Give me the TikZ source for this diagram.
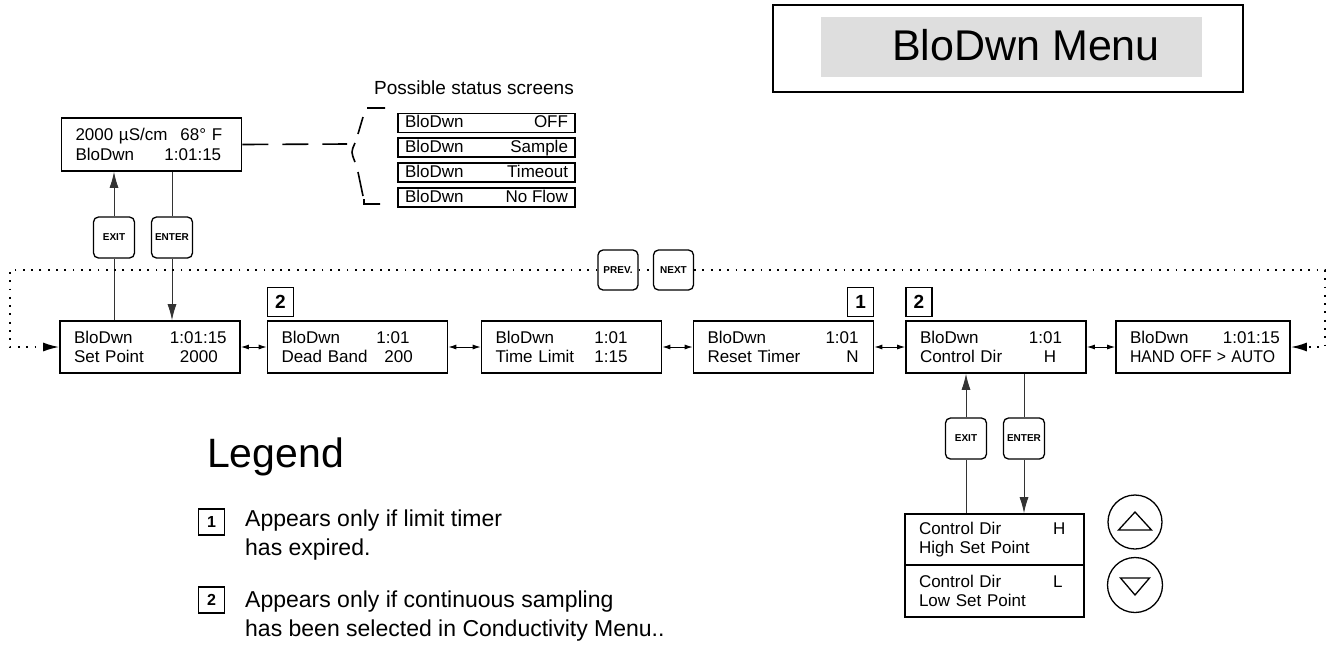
\documentclass[tikz,border=0pt]{standalone}
\usepackage{fontspec}
\setmainfont{Liberation Sans}
\usetikzlibrary{arrows.meta}
\definecolor{menugray}{gray}{0.87}
\newcommand{\lcdfont}{\fontsize{17}{19.5}\selectfont}
\newcommand{\lcdrow}[3]{\makebox[#1pt][l]{#2}#3}
\begin{document}
\begin{tikzpicture}[x=1pt, y=-1pt,
	lcd/.style={draw, line width=1.6pt, inner xsep=14pt, inner ysep=0pt, text width=152pt, minimum height=52pt, align=left, font=\lcdfont},
	statline/.style={draw, line width=1.4pt, inner sep=0pt, minimum width=177pt, minimum height=19pt, text height=12.5pt, text depth=3pt, font=\lcdfont},
	keybtn/.style={draw, fill=white, line width=1.3pt, rounded corners=5pt, minimum size=41pt, inner sep=0pt, font=\fontsize{10}{12}\selectfont\bfseries},
	badge/.style={draw, line width=1.5pt, minimum width=26pt, minimum height=29pt, inner sep=0pt, font=\fontsize{19}{21}\selectfont\bfseries},
	legbadge/.style={draw, line width=1.1pt, minimum size=26pt, inner sep=0pt, font=\fontsize{16}{18}\selectfont\bfseries},
	wire/.style={line width=0.9pt, black!80},
	upto/.style={-{Latex[length=16pt,width=9pt]}},
	twoway/.style={line width=1pt, {Latex[length=8pt,width=5pt]}-{Latex[length=8pt,width=5pt]}},
	cycleline/.style={line width=1.8pt, dash pattern=on 1.8pt off 6.5pt}]
	\useasboundingbox (0,0) rectangle (1335,649);
	\node[draw, line width=1.5pt, minimum width=470pt, minimum height=87pt] (title) at (1008,48.5) {};
	\node[fill=menugray, minimum width=381pt, minimum height=60pt] (band) at (1011.5,47) {};
	\node[font=\fontsize{43}{50}\selectfont] (head) at (1026,45) {BloDwn Menu};

	\node[lcd, minimum height=53pt] (status) at (151.5,144.5) {\lcdrow{105}{2000 µS/cm}{68° F}\\\lcdrow{89}{BloDwn}{1:01:15}};
	\node[font=\fontsize{19}{21}\selectfont] (caption) at (474,87.5) {Possible status screens};
	\node[statline] (off) at (486.5,123) {\makebox[163pt]{BloDwn\hfill OFF}};
	\node[statline] (sample) at (486.5,147.5) {\makebox[163pt]{BloDwn\hfill Sample}};
	\node[statline] (timeout) at (486.5,172.5) {\makebox[163pt]{BloDwn\hfill Timeout}};
	\node[statline] (noflow) at (486.5,197.5) {\makebox[163pt]{BloDwn\hfill No Flow}};
	\coordinate (bracetip) at (347,144);
	\draw[line width=1.6pt, dash pattern=on 26pt off 14pt] (status.east) -- (bracetip);
	\draw[line width=1.6pt] (385,108) -- (367,108) (363,117) -- (358,134)
		(355,143) .. controls (351,152) .. (355,162) (358,172) -- (363,196)
		(364,199) -- (364,204) -- (380,204);

	\node[lcd] (box1) at (150,347) {\lcdrow{96}{BloDwn}{1:01:15}\\\lcdrow{106}{Set Point}{2000}};
	\node[lcd] (box2) at (357.5,347) {\lcdrow{95}{BloDwn}{1:01}\\\lcdrow{103}{Dead Band}{200}};
	\node[lcd] (box3) at (571.5,347) {\lcdrow{99}{BloDwn}{1:01}\\\lcdrow{99}{Time Limit}{1:15}};
	\node[lcd] (box4) at (783.5,347) {\lcdrow{118}{BloDwn}{1:01}\\\lcdrow{139}{Reset Timer}{N}};
	\node[lcd] (box5) at (996,347) {\lcdrow{109}{BloDwn}{1:01}\\\lcdrow{124}{Control Dir}{H}};
	\node[lcd, text width=146pt] (box6) at (1203,347) {\lcdrow{93}{BloDwn}{1:01:15}\\\scalebox{0.93}[1]{HAND OFF > AUTO}};
	\node[badge, anchor=south west] (mark2a) at ([yshift=3pt]box2.north west) {2};
	\node[badge, anchor=south east] (mark1) at ([yshift=3pt]box4.north east) {1};
	\node[badge, anchor=south west] (mark2b) at ([yshift=3pt]box5.north west) {2};
	\foreach \a/\b in {box1/box2, box2/box3, box3/box4, box4/box5, box5/box6}
		\draw[twoway] (\a) -- (\b);

	\node[keybtn] (exitA) at (114,237.5) {EXIT};
	\node[keybtn] (enterA) at (172,237.5) {ENTER};
	\draw[wire] (box1.north -| exitA) -- (exitA.south);
	\draw[wire, upto] (exitA.north) -- (status.south -| exitA);
	\draw[wire] (status.south -| enterA) -- (enterA.north);
	\draw[wire, upto] (enterA.south) -- (box1.north -| enterA);

	\node[keybtn, minimum size=40pt] (prev) at (618,270) {PREV.};
	\node[keybtn, minimum size=40pt] (next) at (673.5,270) {NEXT};
	\coordinate (cornerL) at (10,270);
	\coordinate (cornerR) at (1325,270);
	\draw[cycleline, upto] (prev.west) -- (cornerL) |- (box1.west);
	\draw[cycleline] (prev.east) -- (next.west);
	\draw[cycleline, upto] (next.east) -- (cornerR) |- (box6.east);

	\node[keybtn] (exitB) at (966,438.5) {EXIT};
	\node[keybtn] (enterB) at (1024,438.5) {ENTER};
	\node[lcd, text width=151pt, minimum height=51pt] (dirH) at (994.5,539.5) {\lcdrow{134}{Control Dir}{H}\\High Set Point};
	\node[lcd, text width=151pt, minimum height=52pt] (dirL) at (994.5,591) {\lcdrow{134}{Control Dir}{L}\\Low Set Point};
	\draw[wire] (dirH.north -| exitB) -- (exitB.south);
	\draw[wire, upto] (exitB.north) -- (box5.south -| exitB);
	\draw[wire] (box5.south -| enterB) -- (enterB.north);
	\draw[wire, upto] (enterB.south) -- (dirH.north -| enterB);
	\node[draw, circle, line width=1.3pt, minimum size=54pt, inner sep=0pt] (raise) at (1135,522) {};
	\node[draw, circle, line width=1.3pt, minimum size=55pt, inner sep=0pt] (lower) at (1135,585) {};
	\draw[line width=1.3pt] (raise.center) +(-16.5,8) -- +(16.5,8) -- +(0,-10) -- cycle;
	\draw[line width=1.3pt] (lower.center) +(-14.5,-7) -- +(14.5,-7) -- +(0,10) -- cycle;

	\node[anchor=base west, inner sep=0pt, font=\fontsize{41}{45}\selectfont] (legend) at (207,467) {Legend};
	\node[legbadge] (note1) at (211.5,522) {1};
	\node[legbadge] (note2) at (211.5,600) {2};
	\node[anchor=north west, align=left, inner sep=0pt, font=\fontsize{23}{29}\selectfont] (text1) at (245,510) {Appears only if limit timer\\has expired.};
	\node[anchor=north west, align=left, inner sep=0pt, font=\fontsize{23}{29}\selectfont] (text2) at (245,591) {Appears only if continuous sampling\\has been selected in Conductivity Menu..};
\end{tikzpicture}
\end{document}
